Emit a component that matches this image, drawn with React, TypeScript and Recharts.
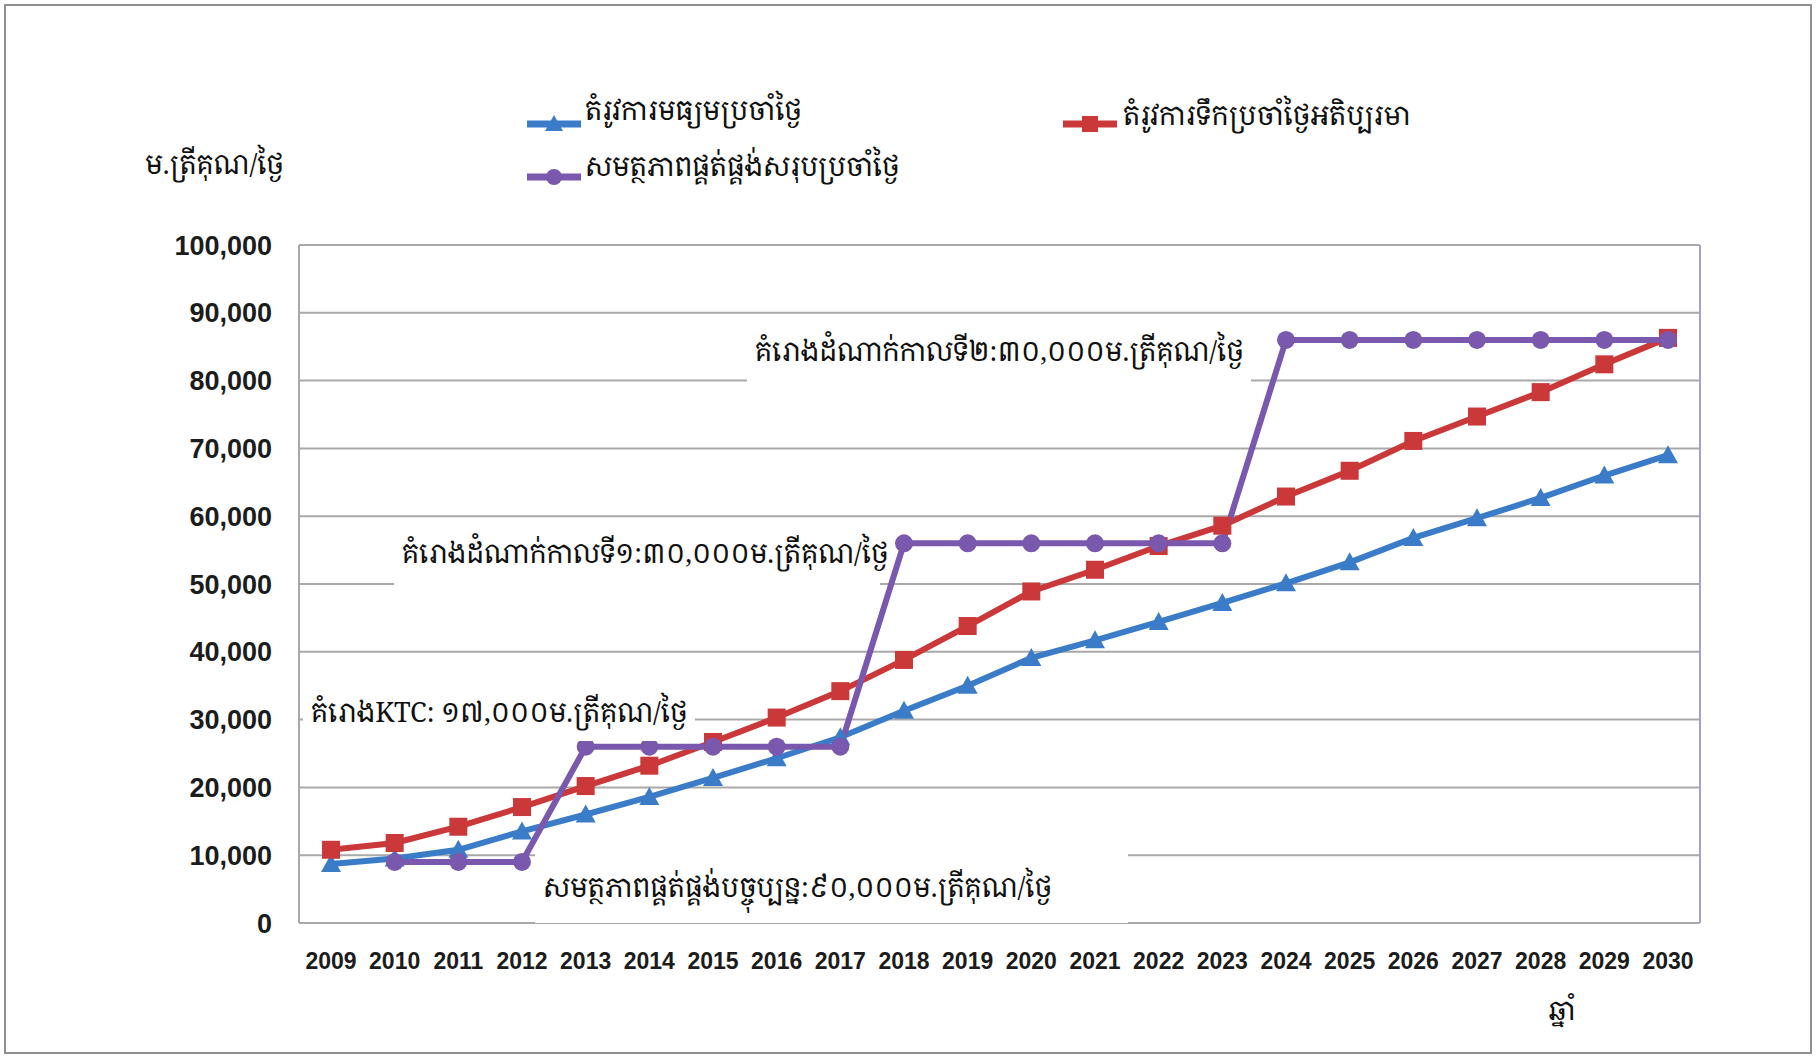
import React from 'react';
import { LineChart, Line, XAxis, YAxis, CartesianGrid } from 'recharts';

const years = [
  '2009', '2010', '2011', '2012', '2013', '2014', '2015', '2016', '2017', '2018', '2019',
  '2020', '2021', '2022', '2023', '2024', '2025', '2026', '2027', '2028', '2029', '2030',
];

// average daily demand (blue)
const avgDemand = [
  8700, 9500, 10800, 13500, 16000, 18600, 21400, 24300, 27400, 31300, 35000,
  39100, 41700, 44400, 47200, 50100, 53200, 56800, 59700, 62700, 66000, 69000,
];

// peak daily demand (red)
const peakDemand = [
  10800, 11800, 14200, 17100, 20200, 23200, 26700, 30300, 34200, 38800, 43800,
  48900, 52100, 55600, 58600, 62900, 66700, 71100, 74700, 78300, 82400, 86300,
];

// total supply capacity (purple)
const supply = [
  null, 9000, 9000, 9000, 26000, 26000, 26000, 26000, 26000, 56000, 56000,
  56000, 56000, 56000, 56000, 86000, 86000, 86000, 86000, 86000, 86000, 86000,
];

const yTicks = [0, 10000, 20000, 30000, 40000, 50000, 60000, 70000, 80000, 90000, 100000];

const seriesNames = {
  avg: 'តំរូវការមធ្យមប្រចាំថ្ងៃ',
  peak: 'តំរូវការទឹកប្រចាំថ្ងៃអតិប្បរមា',
  supply: 'សមត្ថភាពផ្គត់ផ្គង់សរុបប្រចាំថ្ងៃ',
};

const yLabel = 'ម.ត្រីគុណ/ថ្ងៃ';
const xLabel = 'ឆ្នាំ';

const notes = {
  phase2: 'គំរោងដំណាក់កាលទី២:៣០,០០០ម.ត្រីគុណ/ថ្ងៃ',
  phase1: 'គំរោងដំណាក់កាលទី១:៣០,០០០ម.ត្រីគុណ/ថ្ងៃ',
  ktc: 'គំរោងKTC: ១៧,០០០ម.ត្រីគុណ/ថ្ងៃ',
  current: 'សមត្ថភាពផ្គត់ផ្គង់បច្ចុប្បន្ន:៩០,០០០ម.ត្រីគុណ/ថ្ងៃ',
};

const BLUE = '#3b7cc8';
const RED = '#cb383a';
const PURPLE = '#7a58ad';

const khmerFont = "'Noto Serif Khmer', 'Khmer OS', 'Noto Sans', 'DejaVu Serif', serif";

const chartData = years.map((year, i) => ({
  year,
  avg: avgDemand[i],
  peak: peakDemand[i],
  supply: supply[i],
}));

const TriangleDot = (props: any) => {
  const { cx, cy, index } = props;
  if (cx == null || cy == null) return <g key={index} />;
  const s = 10;
  return (
    <path
      key={index}
      d={`M${cx},${cy - s} L${cx + s},${cy + s * 0.8} L${cx - s},${cy + s * 0.8} Z`}
      fill={BLUE}
    />
  );
};

const SquareDot = (props: any) => {
  const { cx, cy, index } = props;
  if (cx == null || cy == null) return <g key={index} />;
  const s = 9;
  return <rect key={index} x={cx - s} y={cy - s} width={s * 2} height={s * 2} fill={RED} />;
};

const CircleDot = (props: any) => {
  const { cx, cy, index } = props;
  if (cx == null || cy == null) return <g key={index} />;
  return <circle key={index} cx={cx} cy={cy} r={9} fill={PURPLE} />;
};

function LegendIcon({ color, shape }: { color: string; shape: 'tri' | 'sq' | 'circ' }) {
  return (
    <svg width={54} height={20} style={{ display: 'block' }}>
      <line x1={0} y1={10} x2={54} y2={10} stroke={color} strokeWidth={7} />
      {shape === 'tri' && <path d="M27,1 L36,17 L18,17 Z" fill={color} />}
      {shape === 'sq' && <rect x={19} y={2} width={16} height={16} fill={color} />}
      {shape === 'circ' && <circle cx={27} cy={10} r={8} fill={color} />}
    </svg>
  );
}

const textStyle: React.CSSProperties = {
  position: 'absolute',
  fontFamily: khmerFont,
  fontSize: 27,
  color: '#111',
  whiteSpace: 'nowrap',
  lineHeight: 1.2,
};

function NoteBox({ left, top, width, height, text }: { left: number; top: number; width: number; height: number; text: string }) {
  return (
    <div
      style={{
        ...textStyle,
        left,
        top,
        width,
        height,
        background: '#fff',
        display: 'flex',
        alignItems: 'center',
        paddingLeft: 8,
        boxSizing: 'border-box',
      }}
    >
      {text}
    </div>
  );
}

export default function App() {
  return (
    <div style={{ position: 'relative', width: 1816, height: 1056, background: '#fff', overflow: 'hidden' }}>
      <style>{'body{margin:0}'}</style>
      <div
        style={{
          position: 'absolute',
          left: 4,
          top: 4,
          width: 1808,
          height: 1050,
          border: '2px solid #8f8f8f',
          boxSizing: 'border-box',
        }}
      />
      <LineChart
        width={1816}
        height={1056}
        data={chartData}
        margin={{ top: 245, right: 116, bottom: 73, left: 169 }}
        style={{ position: 'absolute', left: 0, top: 0 }}
      >
        <CartesianGrid vertical={false} stroke="#a9a9a9" strokeWidth={2} />
        <CartesianGrid
          horizontal={false}
          stroke="#a3a3c2"
          strokeWidth={2}
          verticalCoordinatesGenerator={({ offset }: any) => [offset.left + offset.width]}
        />
        <XAxis
          dataKey="year"
          interval={0}
          padding={{ left: 32, right: 32 }}
          tickLine={false}
          tickSize={0}
          tickMargin={30}
          axisLine={{ stroke: '#a9a9a9', strokeWidth: 2 }}
          tick={{ fill: '#1c1c1c', fontSize: 23, fontWeight: 'bold', fontFamily: "'Liberation Sans', Arial, sans-serif" }}
          height={60}
        />
        <YAxis
          domain={[0, 100000]}
          ticks={yTicks}
          interval={0}
          width={130}
          tickLine={false}
          tickSize={0}
          tickMargin={27}
          axisLine={{ stroke: '#a9a9a9', strokeWidth: 2 }}
          tickFormatter={(v: number) => v.toLocaleString('en-US')}
          tick={{ fill: '#1c1c1c', fontSize: 27, fontWeight: 'bold', fontFamily: "'Liberation Sans', Arial, sans-serif" }}
        />
        <Line
          dataKey="avg"
          stroke={BLUE}
          strokeWidth={6}
          dot={TriangleDot}
          activeDot={false}
          isAnimationActive={false}
        />
        <Line
          dataKey="peak"
          stroke={RED}
          strokeWidth={6}
          dot={SquareDot}
          activeDot={false}
          isAnimationActive={false}
        />
        <Line
          dataKey="supply"
          stroke={PURPLE}
          strokeWidth={6}
          dot={CircleDot}
          activeDot={false}
          isAnimationActive={false}
        />
      </LineChart>

      {/* legend */}
      <div style={{ position: 'absolute', left: 527, top: 114 }}>
        <LegendIcon color={BLUE} shape="tri" />
      </div>
      <div style={{ ...textStyle, left: 585, top: 94 }}>{seriesNames.avg}</div>
      <div style={{ position: 'absolute', left: 527, top: 167 }}>
        <LegendIcon color={PURPLE} shape="circ" />
      </div>
      <div style={{ ...textStyle, left: 585, top: 150 }}>{seriesNames.supply}</div>
      <div style={{ position: 'absolute', left: 1063, top: 114 }}>
        <LegendIcon color={RED} shape="sq" />
      </div>
      <div style={{ ...textStyle, left: 1123, top: 99 }}>{seriesNames.peak}</div>

      {/* axis titles */}
      <div style={{ ...textStyle, left: 145, top: 148 }}>{yLabel}</div>
      <div style={{ ...textStyle, left: 1549, top: 994 }}>{xLabel}</div>

      {/* annotation boxes */}
      <NoteBox left={747} top={321} width={504} height={61} text={notes.phase2} />
      <NoteBox left={394} top={518} width={486} height={70} text={notes.phase1} />
      <NoteBox left={303} top={683} width={392} height={58} text={notes.ktc} />
      <NoteBox left={535} top={851} width={593} height={72} text={notes.current} />
    </div>
  );
}
